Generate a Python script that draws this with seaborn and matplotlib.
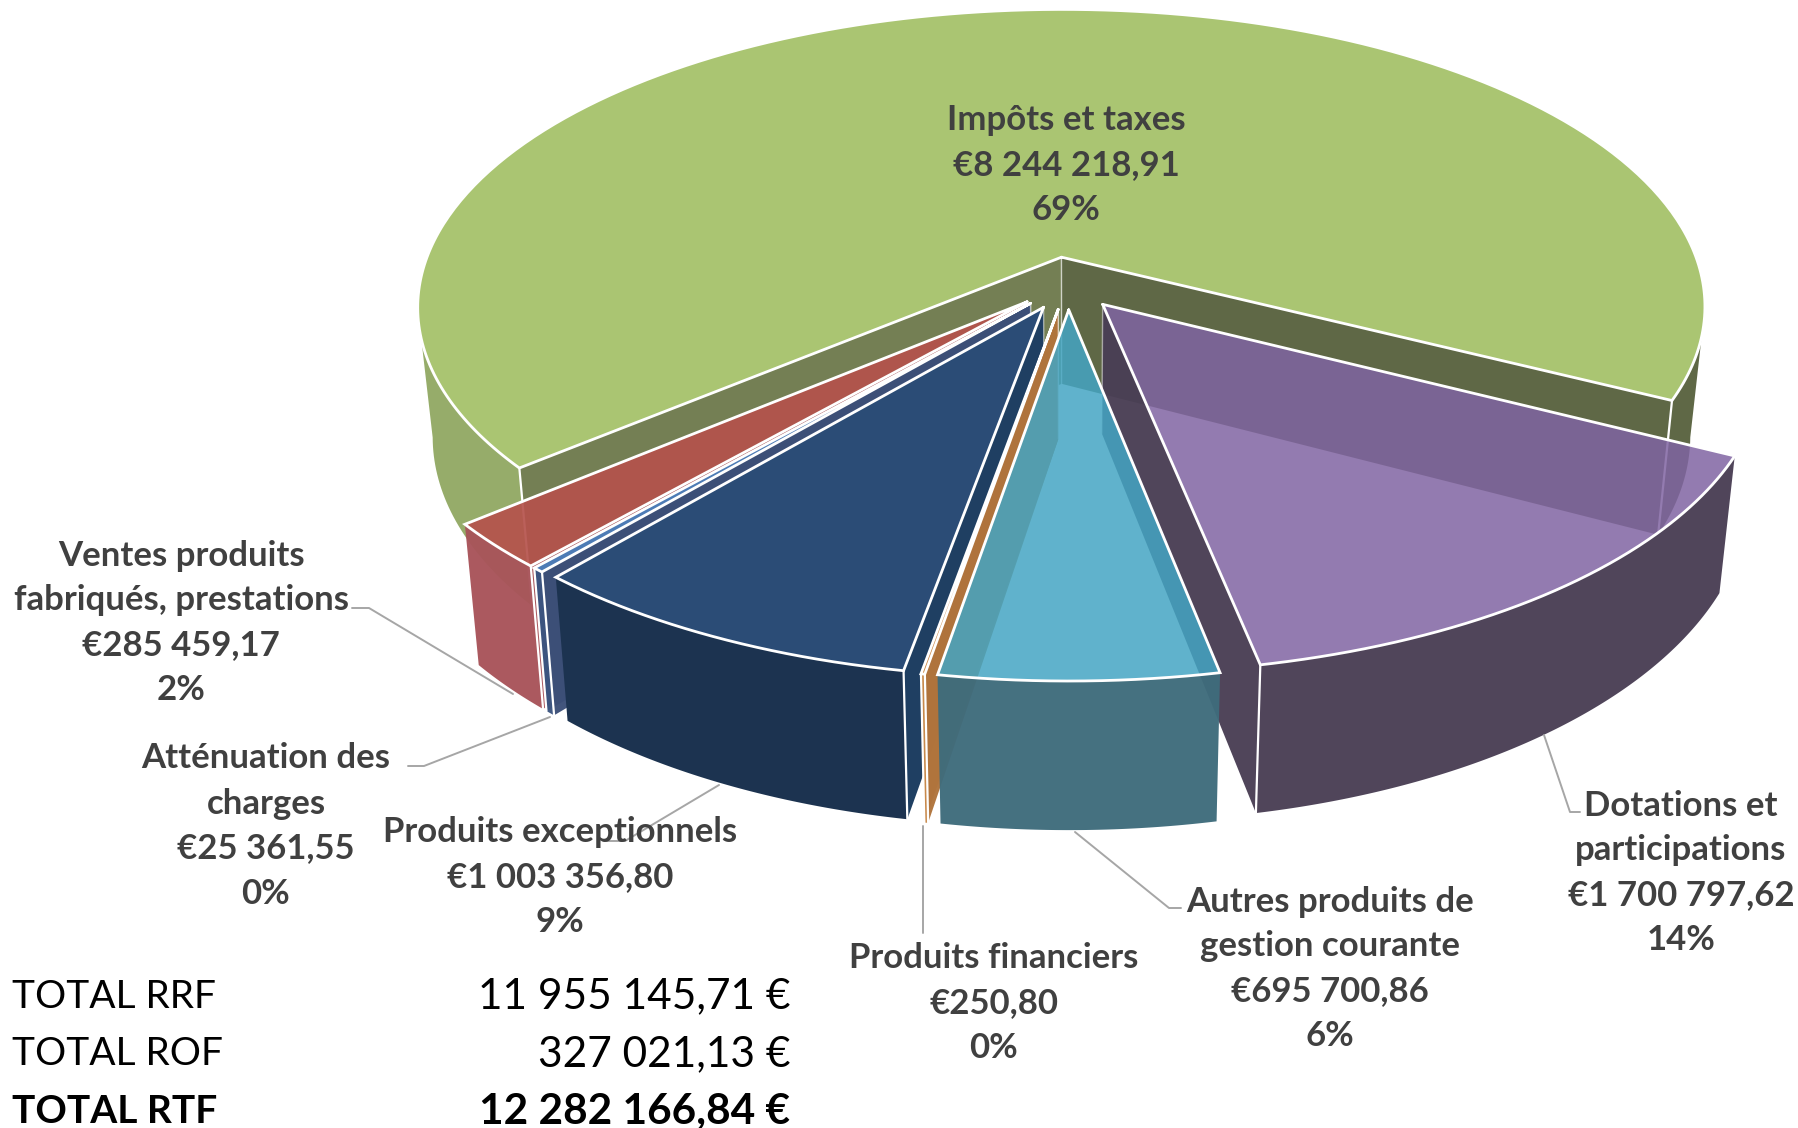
import numpy as np
import matplotlib
matplotlib.use("Agg")
import matplotlib.pyplot as plt
from matplotlib.path import Path
from matplotlib.patches import Polygon
import seaborn as sns

# slices, clockwise, starting with the big one
categories = ["Impôts et taxes", "Dotations et\nparticipations",
              "Autres produits de\ngestion courante", "Produits financiers",
              "Produits exceptionnels", "Atténuation des\ncharges",
              "Ventes produits\nfabriqués, prestations"]
values = [8244218.91, 1700797.62, 695700.86, 250.80, 1003356.80, 25361.55, 285459.17]
value_labels = ["€8 244 218,91", "€1 700 797,62", "€695 700,86", "€250,80",
                "€1 003 356,80", "€25 361,55", "€285 459,17"]
pct_labels = ["69%", "14%", "6%", "0%", "9%", "0%", "2%"]

total_names = ["TOTAL RRF", "TOTAL ROF", "TOTAL RTF"]
total_values = ["11 955 145,71 €", "327 021,13 €", "12 282 166,84 €"]

# look of each slice, same order as categories
top_colors = ["#9BBB59", "#8064A2", "#44A5C3", "#D08A45", "#2B4C76", "#4F81BD", "#B5524C"]
top_alpha = [0.85, 0.85, 0.85, 0.85, 1.0, 0.9, 0.92]
wall_colors = ["#5A6340", "#4A3F55", "#3F6C7C", "#C98A4C", "#1C3350", "#3C5580", "#A8545A"]
wall_alpha = [0.97, 0.97, 0.97, 0.97, 1.0, 0.97, 0.97]
inner_colors = ["#5A6340", "#4A3F55", "#3F9AB3", "#B0743C", "#1F3F62", "#3C4F78", "#A8545A"]
label_pos = [(1066, 165), (1681, 873), (1330, 969), (994, 1003), (560, 877), (266, 826), (181, 623)]
leaders = [None,
           [(1544, 735), (1570, 812), (1580, 812)],
           [(1075, 832), (1169, 908), (1181, 908)],
           [(923, 826), (923, 933)],
           [(719, 785), (625, 841), (607, 841)],
           [(550, 717), (424, 766), (408, 766)],
           [(513, 694), (369, 608), (352, 608)]]
draw_order = [0, 1, 6, 5, 4, 3, 2]

# the projection of the pie, in pixels
CX, CY = 1068, 283
RX, RY = 644, 298
PERSP = 0.17
EXPLODE = 0.0885
START = -130.5          # clockwise from 12 o'clock
MIN_SWEEP = 1.5         # very small slices are still drawn with some width
# the 3d view does not keep angles exactly, degrees
sweep_adjust = [1.0, 0.8, -0.15, -1.2, 0.15, -0.6, 0.0]
GREEN_LEFT_WALL = "#93AA65"
GREEN_LEFT_INNER = "#6F7B4E"

sns.set_theme(style="white")
plt.rcParams["font.family"] = ["Lato", "DejaVu Sans"]

fig = plt.figure(figsize=(17.98, 11.28), dpi=100)
ax = fig.add_axes([0, 0, 1, 1])
ax.set_xlim(0, 1798)
ax.set_ylim(1128, 0)
ax.axis("off")


def project(x, y):
    w = 1 + PERSP * y
    return np.column_stack([CX + RX * x / w, CY - RY * y / w])


def lower(pts):
    # same point on the bottom of the pie
    return np.column_stack([CX + (pts[:, 0] - CX) * 0.977, pts[:, 1] * 1.053 + 113])


def add_poly(pts, color, alpha, zorder):
    ax.add_patch(Polygon(pts, closed=True, facecolor=color, edgecolor="none", alpha=alpha, zorder=zorder))


sweeps = np.maximum(np.array(values) / np.sum(values) * 360, MIN_SWEEP)
sweeps = sweeps / sweeps.sum() * 360 + np.array(sweep_adjust)
sweeps = sweeps / sweeps.sum() * 360
starts = START + np.concatenate([[0], np.cumsum(sweeps)[:-1]])

for n, i in enumerate(draw_order):
    z = 2 + n * 4
    mid = np.radians(starts[i] + sweeps[i] / 2)
    ox, oy = EXPLODE * np.sin(mid), EXPLODE * np.cos(mid)
    th = np.radians(np.linspace(starts[i], starts[i] + sweeps[i], 300))
    rim_x, rim_y = ox + np.sin(th), oy + np.cos(th)
    rim = project(rim_x, rim_y)
    apex = project(np.array([ox]), np.array([oy]))
    top = np.vstack([apex, rim])
    top_path = Path(top)

    # radial walls, only where they are not hidden under the slice
    for j, end in enumerate([rim[0], rim[-1]]):
        midpoint = (apex[0] + end) / 2 + [0, 6]
        if top_path.contains_point(midpoint):
            continue
        edge = np.vstack([apex, end])
        color = inner_colors[i]
        if i == 0 and j == 0:
            color = GREEN_LEFT_INNER
        add_poly(np.vstack([edge, lower(edge)[::-1]]), color, wall_alpha[i], z)
        ax.plot(*np.vstack([end, lower(end[None])]).T, color="white", lw=1.6, zorder=z + 3)
        ax.plot(*np.vstack([apex, lower(apex)]).T, color="white", lw=1.0, alpha=0.5, zorder=z)

    # outer wall, front part of the rim only
    front = np.cos(th) < -PERSP
    cuts = np.flatnonzero(np.diff(front.astype(int)))
    for part_idx in np.split(np.arange(len(th)), cuts + 1):
        if not front[part_idx[0]]:
            continue
        part = rim[part_idx]
        color = wall_colors[i]
        if i == 0 and part[:, 0].mean() < CX:
            color = GREEN_LEFT_WALL
        add_poly(np.vstack([part, lower(part)[::-1]]), color, wall_alpha[i], z + 1)

    add_poly(top, top_colors[i], top_alpha[i], z + 2)
    ax.plot(*np.vstack([top, top[0]]).T, color="white", lw=2.0, solid_joinstyle="miter", zorder=z + 3)

for i, cat in enumerate(categories):
    if leaders[i] is not None:
        ax.plot(*np.array(leaders[i]).T, color="#A6A6A6", lw=1.4, zorder=50)
    ax.text(label_pos[i][0], label_pos[i][1], cat + "\n" + value_labels[i] + "\n" + pct_labels[i],
            ha="center", va="center", fontsize=25, fontweight="bold", color="#404040",
            linespacing=1.5, zorder=60)

for i, name in enumerate(total_names):
    weight = "bold" if i == 2 else "normal"
    y = 996.5 + i * 57.5
    ax.text(12, y, name, ha="left", va="center", fontsize=28, fontweight=weight, color="black")
    ax.text(790, y, total_values[i], ha="right", va="center", fontsize=30.5, fontweight=weight, color="black")

fig.savefig("out.png", dpi=100, facecolor="white")
